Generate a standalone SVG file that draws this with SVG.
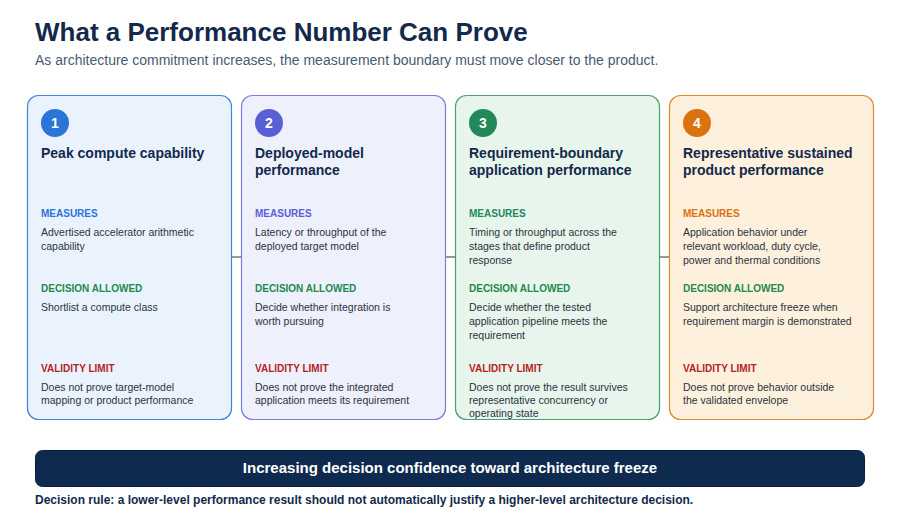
<svg xmlns="http://www.w3.org/2000/svg" width="900" height="520" viewBox="0 0 900 520">
<style>
text{font-family:"Liberation Sans",Arial,sans-serif}
.h1{font-size:26px;font-weight:bold;fill:#13294b}
.sub{font-size:14px;fill:#4a5a70}
.t{font-size:14px;font-weight:bold;fill:#13294b}
.lab{font-size:10px;font-weight:bold}
.b{font-size:10.5px;fill:#2a3340}
.num{font-size:14px;font-weight:bold;fill:#fff;text-anchor:middle}
.dec{fill:#1f8a4c}.val{fill:#b42323}
.conn line{stroke:#333;stroke-width:1}
</style>
<rect width="900" height="520" fill="#fff"/>
<text class="h1" x="35" y="41">What a Performance Number Can Prove</text>
<text class="sub" x="35" y="65">As architecture commitment increases, the measurement boundary must move closer to the product.</text>
<g class="conn">
<line x1="231" y1="257" x2="241" y2="257"/>
<line x1="445" y1="257" x2="455" y2="257"/>
<line x1="659" y1="257" x2="669" y2="257"/>
</g>
<g id="card1">
<rect x="27.5" y="95.5" width="204" height="324" rx="11" fill="#eaf3fd" stroke="#3f84da" stroke-width="1.2"/>
<circle cx="55" cy="123" r="14" fill="#2b74d8"/><text class="num" x="55" y="128">1</text>
<text class="t" x="41" y="158">Peak compute capability</text>
<text class="lab" x="41" y="217" fill="#2b74d8">MEASURES</text>
<text class="b" x="41" y="236">Advertised accelerator arithmetic</text>
<text class="b" x="41" y="250">capability</text>
<text class="lab dec" x="41" y="292">DECISION ALLOWED</text>
<text class="b" x="41" y="311">Shortlist a compute class</text>
<text class="lab val" x="41" y="372">VALIDITY LIMIT</text>
<text class="b" x="41" y="391">Does not prove target-model</text>
<text class="b" x="41" y="404">mapping or product performance</text>
</g>
<g id="card2">
<rect x="241.5" y="95.5" width="204" height="324" rx="11" fill="#eef0fc" stroke="#7b80e0" stroke-width="1.2"/>
<circle cx="269" cy="123" r="14" fill="#5a5fd6"/><text class="num" x="269" y="128">2</text>
<text class="t" x="255" y="158">Deployed-model</text>
<text class="t" x="255" y="175">performance</text>
<text class="lab" x="255" y="217" fill="#5a5fd6">MEASURES</text>
<text class="b" x="255" y="236">Latency or throughput of the</text>
<text class="b" x="255" y="250">deployed target model</text>
<text class="lab dec" x="255" y="292">DECISION ALLOWED</text>
<text class="b" x="255" y="311">Decide whether integration is</text>
<text class="b" x="255" y="325">worth pursuing</text>
<text class="lab val" x="255" y="372">VALIDITY LIMIT</text>
<text class="b" x="255" y="391">Does not prove the integrated</text>
<text class="b" x="255" y="404">application meets its requirement</text>
</g>
<g id="card3">
<rect x="455.5" y="95.5" width="204" height="324" rx="11" fill="#e8f5ec" stroke="#4f9e70" stroke-width="1.2"/>
<circle cx="483" cy="123" r="14" fill="#23895a"/><text class="num" x="483" y="128">3</text>
<text class="t" x="469" y="158">Requirement-boundary</text>
<text class="t" x="469" y="175">application performance</text>
<text class="lab" x="469" y="217" fill="#23895a">MEASURES</text>
<text class="b" x="469" y="236">Timing or throughput across the</text>
<text class="b" x="469" y="250">stages that define product</text>
<text class="b" x="469" y="264">response</text>
<text class="lab dec" x="469" y="292">DECISION ALLOWED</text>
<text class="b" x="469" y="311">Decide whether the tested</text>
<text class="b" x="469" y="325">application pipeline meets the</text>
<text class="b" x="469" y="339">requirement</text>
<text class="lab val" x="469" y="372">VALIDITY LIMIT</text>
<text class="b" x="469" y="391">Does not prove the result survives</text>
<text class="b" x="469" y="404">representative concurrency or</text>
<text class="b" x="469" y="417">operating state</text>
</g>
<g id="card4">
<rect x="669.5" y="95.5" width="204" height="324" rx="11" fill="#fdf0dd" stroke="#e08a2a" stroke-width="1.2"/>
<circle cx="697" cy="123" r="14" fill="#d9720f"/><text class="num" x="697" y="128">4</text>
<text class="t" x="683" y="158">Representative sustained</text>
<text class="t" x="683" y="175">product performance</text>
<text class="lab" x="683" y="217" fill="#d9720f">MEASURES</text>
<text class="b" x="683" y="236">Application behavior under</text>
<text class="b" x="683" y="250">relevant workload, duty cycle,</text>
<text class="b" x="683" y="264">power and thermal conditions</text>
<text class="lab dec" x="683" y="292">DECISION ALLOWED</text>
<text class="b" x="683" y="311">Support architecture freeze when</text>
<text class="b" x="683" y="325">requirement margin is demonstrated</text>
<text class="lab val" x="683" y="372">VALIDITY LIMIT</text>
<text class="b" x="683" y="391">Does not prove behavior outside</text>
<text class="b" x="683" y="404">the validated envelope</text>
</g>
<g id="banner">
<rect x="35.5" y="450.5" width="829" height="36" rx="7" fill="#0f2a4f" stroke="#0a1f3d"/>
<text x="450" y="473" text-anchor="middle" font-size="15" font-weight="bold" fill="#fff">Increasing decision confidence toward architecture freeze</text>
</g>
<text x="35" y="504" font-size="12" font-weight="bold" fill="#13294b">Decision rule: a lower-level performance result should not automatically justify a higher-level architecture decision.</text>
</svg>
